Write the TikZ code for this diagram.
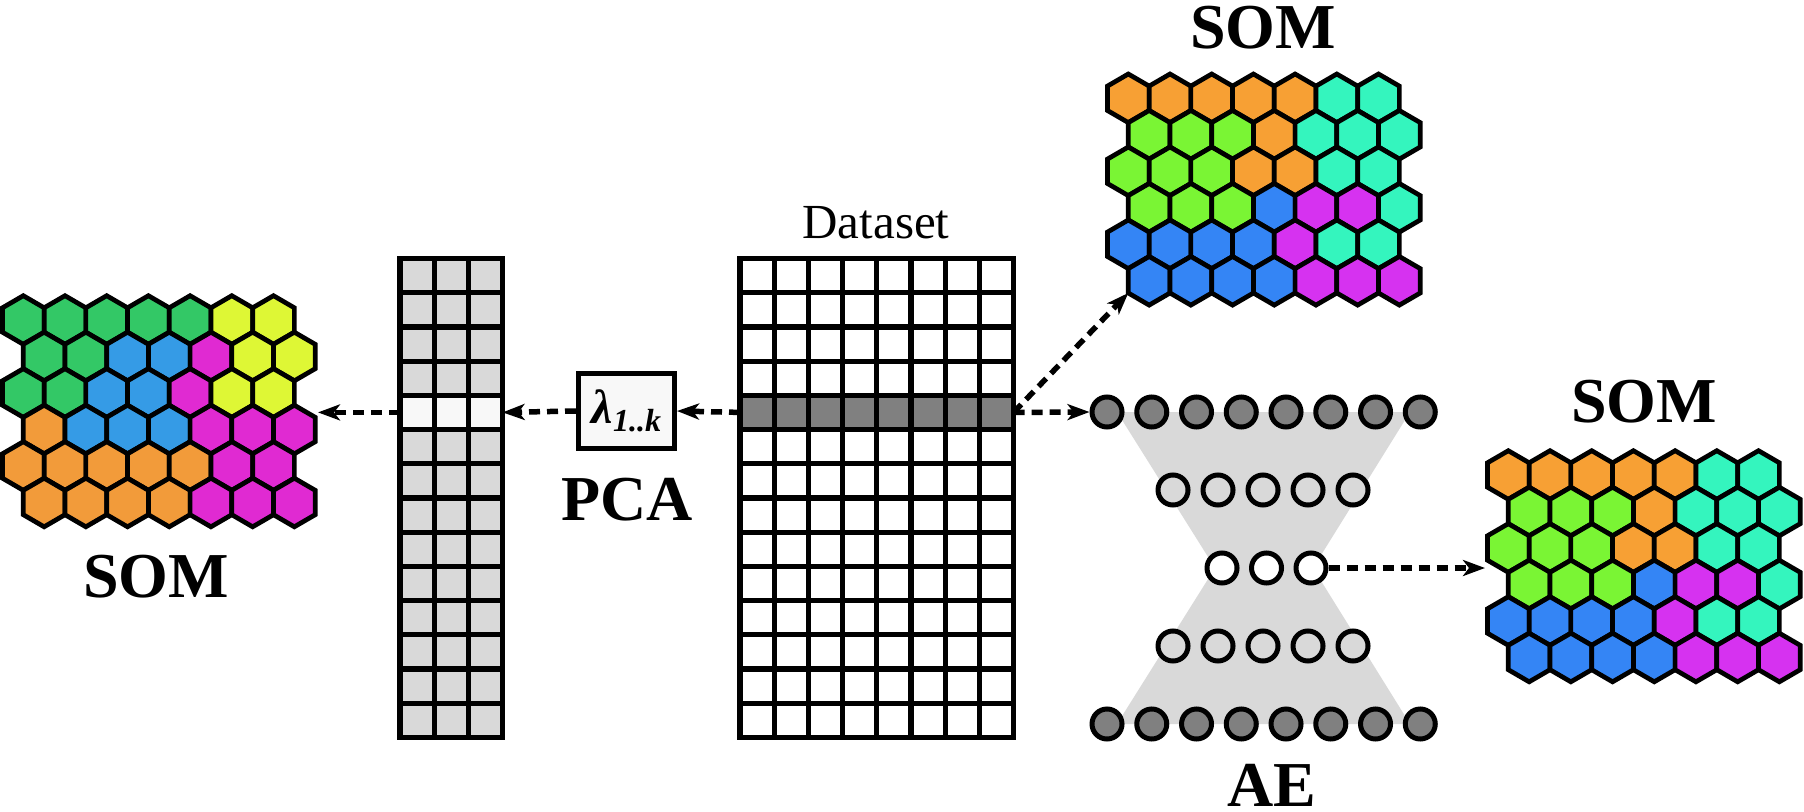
\documentclass[tikz,border=0pt]{standalone}
\usepackage{fontspec}
\setmainfont{Liberation Serif}
\usetikzlibrary{arrows.meta,positioning,calc}
\definecolor{lgrn}{RGB}{51,200,102}
\definecolor{lyel}{RGB}{222,247,53}
\definecolor{lblu}{RGB}{53,155,230}
\definecolor{lmag}{RGB}{224,42,210}
\definecolor{lora}{RGB}{242,155,58}
\definecolor{rora}{RGB}{247,160,52}
\definecolor{rtea}{RGB}{52,245,190}
\definecolor{rgrn}{RGB}{122,245,52}
\definecolor{rblu}{RGB}{52,133,245}
\definecolor{rmag}{RGB}{214,50,240}
\definecolor{aedark}{RGB}{128,128,128}
\definecolor{aelight}{RGB}{217,217,217}
\definecolor{boxfill}{RGB}{248,248,248}

% hexagonal SOM map: centre of first cell, rows of colours (a macro)
\newcommand{\somgrid}[3]{%
  \foreach \cols [count=\r from 0] in #3 {
    \foreach \hc [count=\k from 0] in \cols {
      \pgfmathsetmacro{\hx}{#1+\k*41.7+mod(\r,2)*20.85}
      \pgfmathsetmacro{\hy}{#2+\r*36.5}
      \filldraw[hexcell, fill=\hc, shift={(\hx,\hy)}] (0,-24.3) -- (20.85,-12.2) -- (20.85,12.2)
        -- (0,24.3) -- (-20.85,12.2) -- (-20.85,-12.2) -- cycle;
    }
  }
}
\newcommand{\somleft}{{lgrn,lgrn,lgrn,lgrn,lgrn,lyel,lyel},{lgrn,lgrn,lblu,lblu,lmag,lyel,lyel},{lgrn,lgrn,lblu,lblu,lmag,lyel,lyel},{lora,lblu,lblu,lblu,lmag,lmag,lmag},{lora,lora,lora,lora,lora,lmag,lmag},{lora,lora,lora,lora,lmag,lmag,lmag}}
\newcommand{\somright}{{rora,rora,rora,rora,rora,rtea,rtea},{rgrn,rgrn,rgrn,rora,rtea,rtea,rtea},{rgrn,rgrn,rgrn,rora,rora,rtea,rtea},{rgrn,rgrn,rgrn,rblu,rmag,rmag,rtea},{rblu,rblu,rblu,rblu,rmag,rtea,rtea},{rblu,rblu,rblu,rblu,rmag,rmag,rmag}}

\begin{document}
\begin{tikzpicture}[x=1pt, y=-1pt,
    hexcell/.style={draw, line width=4.7pt},
    gridline/.style={line width=5.2pt, line cap=rect},
    aecirc/.style={circle, draw, line width=5pt, minimum size=30pt, inner sep=0pt},
    bigtitle/.style={font=\fontsize{64}{70}\selectfont\bfseries, anchor=base, inner sep=0pt},
    flow/.style={line width=5.5pt, dash pattern=on 11pt off 7pt, -{Stealth[length=22pt, width=16pt, inset=6pt]}}
]
\useasboundingbox (0,0) rectangle (1804,811);

% SOM maps
\somgrid{23.3}{320}{\somleft}
\somgrid{1128.3}{98.3}{\somright}
\somgrid{1508.3}{475}{\somright}

\node[bigtitle] (somT-lbl) at (1263,48) {SOM};
\node[bigtitle] (somR-lbl) at (1644,422) {SOM};
\node[bigtitle] (somL-lbl) at (156,597) {SOM};

% reduced features
\fill[aelight] (400,258.5) rectangle (502.6,737.3);
\fill[boxfill] (400,395.3) rectangle (502.6,429.5);
\foreach \i in {0,...,3} \draw[gridline] ({400+34.2*\i},258.5) -- ++(0,478.8);
\foreach \j in {0,...,14} \draw[gridline] (400,{258.5+34.2*\j}) -- ++(102.6,0);

% dataset
\fill[aedark] (740,395.3) rectangle (1013.6,429.5);
\foreach \i in {0,...,8} \draw[gridline] ({740+34.2*\i},258.5) -- ++(0,478.8);
\foreach \j in {0,...,14} \draw[gridline] (740,{258.5+34.2*\j}) -- ++(273.6,0);
\node[font=\fontsize{49}{55}\selectfont, anchor=base, inner sep=0pt] (data-lbl) at (876,238) {Dataset};

\coordinate (dsL) at (740,412.4);
\coordinate (dsR) at (1013.6,412.4);
\coordinate (pcaL) at (400,412.4);
\coordinate (pcaR) at (502.6,412.4);
\coordinate (somL-in) at (318,412.4);
\coordinate (somT-in) at (1128.3,293);
\coordinate (somR-in) at (1485,568);

% PCA
\node[draw, line width=5pt, fill=boxfill, minimum width=96pt, minimum height=75pt, inner sep=0pt] (lam) at (626.5,411)
  {\fontsize{48}{48}\selectfont\bfseries\itshape λ\raisebox{-8pt}{\fontsize{32}{32}\selectfont 1..k}};
\node[bigtitle] (pca-lbl) at (627,520) {PCA};

% autoencoder
\fill[aelight] (1117,412) -- (1410,412) -- (1313,568) -- (1410,724) -- (1117,724) -- (1215,568) -- cycle;
\foreach \k in {1,...,8} {
  \node[aecirc, fill=aedark] (ae-1-\k) at ({1107+44.75*(\k-1)},412) {};
  \node[aecirc, fill=aedark] (ae-5-\k) at ({1107+44.75*(\k-1)},724) {};
}
\foreach \k in {1,...,5} {
  \node[aecirc, fill=aelight] (ae-2-\k) at ({1173+45*(\k-1)},490) {};
  \node[aecirc, fill=aelight] (ae-4-\k) at ({1173+45*(\k-1)},646) {};
}
\foreach \k in {1,...,3}
  \node[aecirc, fill=white] (ae-3-\k) at ({1222+44.5*(\k-1)},568) {};
\node[bigtitle] (ae-lbl) at (1272,806) {AE};

\draw[flow] (dsL) -- (lam.east);
\draw[flow] (lam.west) -- (pcaR);
\draw[flow] (pcaL) -- (somL-in);
\draw[flow] (dsR) -- (ae-1-1.west);
\draw[flow] (dsR) -- (somT-in);
\draw[flow] (ae-3-3.east) -- (somR-in);
\end{tikzpicture}
\end{document}
